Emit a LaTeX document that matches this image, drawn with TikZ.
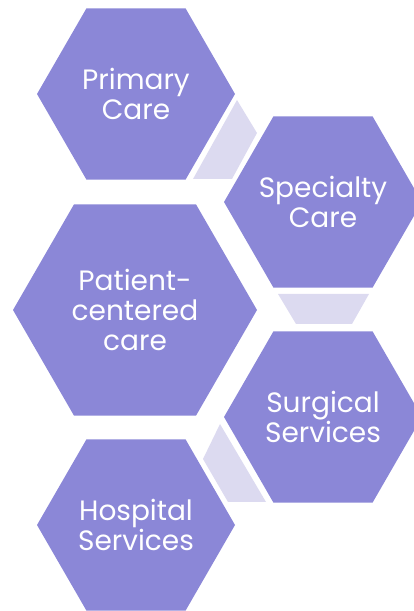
\documentclass[tikz,border=0pt]{standalone}
\usepackage{fontspec}
\setmainfont{Poppins}
\usepackage{xcolor}
\usetikzlibrary{shapes.geometric}
\definecolor{hexfill}{HTML}{8B87D7}
\definecolor{linkfill}{HTML}{DCDAF0}

\begin{document}
\begin{tikzpicture}[x=1pt,y=1pt,
    hexa/.style={regular polygon,regular polygon sides=6,fill=hexfill,draw=none,
        inner sep=-20pt,text=white,align=center,font=\fontsize{28}{30}\selectfont},
    link/.style={fill=linkfill,draw=none}]
                \useasboundingbox (0,0) rectangle (414,611);
                \clip (0,0) rectangle (414,611);
                % light pieces between the hexagons
                \fill[link] (237,511)--(257,478)--(232,432)--(193,432)--cycle;
                \fill[link] (278,317)--(369,317)--(352,287)--(296,287)--cycle;
                \fill[link] (220,187)--(203,152)--(228,109)--(266,109)--cycle;
                % hexagons
                \node[hexa,minimum size=198pt] (primary) at (136,517) {Primary\\Care};
                \node[hexa,minimum size=198pt] (specialty) at (323,409) {Specialty\\Care};
                \node[hexa,minimum size=244pt] (patient) at (135,301) {Patient-\\centered\\care};
                \node[hexa,minimum size=198pt] (surgical) at (323,194) {Surgical\\Services};
                \node[hexa,minimum size=198pt] (hospital) at (136,86) {Hospital\\Services};
            \end{tikzpicture}
\end{document}
